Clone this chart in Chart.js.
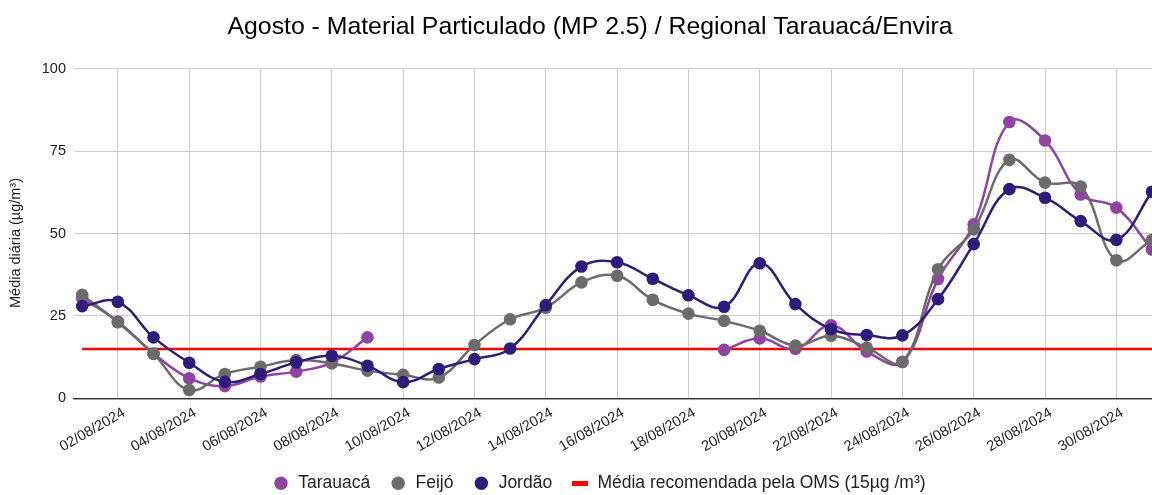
<!DOCTYPE html>
<html><head><meta charset="utf-8">
<script src="https://cdn.jsdelivr.net/npm/chart.js@4.4.1/dist/chart.umd.min.js"></script>
<style>html,body{margin:0;padding:0;background:#fff;overflow:hidden}</style>
</head><body>
<canvas id="c" width="1152" height="495"></canvas>
<script>
const days = ['01/08/2024','02/08/2024','03/08/2024','04/08/2024','05/08/2024','06/08/2024','07/08/2024','08/08/2024','09/08/2024','10/08/2024','11/08/2024','12/08/2024','13/08/2024','14/08/2024','15/08/2024','16/08/2024','17/08/2024','18/08/2024','19/08/2024','20/08/2024','21/08/2024','22/08/2024','23/08/2024','24/08/2024','25/08/2024','26/08/2024','27/08/2024','28/08/2024','29/08/2024','30/08/2024','31/08/2024'];
const tickDays = [2,4,6,8,10,12,14,16,18,20,22,24,26,28,30];
const yTicks = [0,25,50,75,100];
const tarauaca = [30.4,23.3,13.6,6.1,3.7,6.6,8.1,10.8,18.5,null,null,null,null,null,null,null,null,null,14.7,18.2,15.0,22.2,14.2,11.0,36.2,52.8,83.9,78.3,61.9,57.9,45.2];
const feijo = [31.4,23.1,13.5,2.5,7.4,9.6,11.6,10.6,8.4,7.1,6.3,16.2,24.0,27.5,35.2,37.2,29.9,25.7,23.5,20.5,16.0,19.0,15.4,11.1,39.2,51.3,72.4,65.5,64.3,41.9,48.1];
const jordao = [28.0,29.3,18.5,10.8,5.0,7.4,10.9,12.9,9.9,4.9,8.9,11.9,15.1,28.3,40.0,41.3,36.3,31.3,27.8,41.0,28.6,21.0,19.2,19.1,30.1,46.8,63.5,60.9,53.8,48.1,62.7];
const oms = days.map(() => 15);
const seriesNames = ['Tarauacá','Feijó','Jordão','Média recomendada pela OMS (15µg /m³)'];
const titleText = 'Agosto - Material Particulado (MP 2.5) / Regional Tarauacá/Envira';
const yTitle = 'Média diária (µg/m³)';

const FONT = '"Liberation Sans", Arial, sans-serif';
Chart.defaults.font.family = FONT;
Chart.defaults.color = '#222';

const toXY = arr => arr.map((v, i) => ({x: i + 1, y: v}));

const marker = document.createElement('canvas');
marker.width = 16; marker.height = 5;
const mctx = marker.getContext('2d');
mctx.fillStyle = '#ff0000'; mctx.fillRect(0, 0, 16, 5);

const colors = ['#8f44a2', '#6b6b6b', '#2f1b7a', '#ff0000'];

function series(i, data, order) {
  return {
    label: seriesNames[i], data: toXY(data), order: order,
    borderColor: colors[i], backgroundColor: colors[i],
    pointBackgroundColor: colors[i], pointBorderWidth: 0,
    pointRadius: 6.3, pointHoverRadius: 6.3,
    borderWidth: 2.5, tension: 0.4, spanGaps: false
  };
}

const shiftPlugin = {
  id: 'shift',
  afterLayout(chart) {
    const lg = chart.legend;
    lg.top += 7; lg.bottom += 7; lg.left += 23; lg.right += 23;
    const t = chart.titleBlock;
    t.left += 14; t.right += 14;
    const ca = chart.chartArea;
    ca.right = chart.width; ca.width = ca.right - ca.left;
    const x = chart.scales.x;
    x.right = chart.width; x.width = x.right - x.left;
    x.configure();
    x.bottom = chart.height;
  },
  afterDraw(chart) {
    const ctx = chart.ctx;
    ctx.save();
    ctx.translate(16, 243);
    ctx.rotate(-Math.PI / 2);
    ctx.font = '14.5px ' + FONT;
    ctx.fillStyle = '#222';
    ctx.textAlign = 'center';
    ctx.textBaseline = 'middle';
    ctx.fillText(yTitle, 0, 0);
    ctx.restore();
  }
};

new Chart(document.getElementById('c'), {
  type: 'line',
  data: {
    datasets: [
      series(0, tarauaca, 2),
      series(1, feijo, 1),
      series(2, jordao, 0),
      {
        label: seriesNames[3], data: toXY(oms), order: 3,
        borderColor: colors[3], backgroundColor: colors[3],
        borderWidth: 2.5, pointRadius: 0, pointHoverRadius: 0, tension: 0
      }
    ]
  },
  plugins: [shiftPlugin],
  options: {
    responsive: false, animation: false,
    layout: {padding: 0},
    scales: {
      x: {
        type: 'linear', min: 0.77, max: 31,
        afterBuildTicks: s => { s.ticks = tickDays.map(v => ({value: v})); },
        afterFit: s => { s.height = 49.7; s.paddingLeft = 0; s.paddingRight = 0; },
        ticks: {
          autoSkip: false, minRotation: 30, maxRotation: 30, padding: 6, labelOffset: 6,
          font: {size: 14.5}, color: '#222',
          callback: v => days[v - 1]
        },
        grid: {color: '#cccccc', lineWidth: 1, drawTicks: false},
        border: {display: true, color: '#333', width: 1.3}
      },
      y: {
        min: 0, max: 100,
        afterBuildTicks: s => { s.ticks = yTicks.map(v => ({value: v})); },
        afterFit: s => { s.width = 74; },
        ticks: {padding: 8, font: {size: 14.5}, color: '#222'},
        grid: {color: c => (c.tick && c.tick.value === 0) ? '#333' : '#cccccc', lineWidth: c => (c.tick && c.tick.value === 0) ? 1.3 : 1, drawTicks: false},
        border: {display: false},
        title: {display: false}
      }
    },
    plugins: {
      title: {
        display: true, text: titleText, color: '#000',
        font: {size: 24.8, weight: 'normal'}, padding: {top: 12, bottom: 27.2}
      },
      legend: {
        position: 'bottom',
        labels: {
          usePointStyle: true, boxWidth: 17, boxHeight: 9.5, padding: 19.5,
          font: {size: 17.5}, color: '#222',
          sort: (a, b) => a.datasetIndex - b.datasetIndex,
          generateLabels: chart => {
            const items = Chart.defaults.plugins.legend.labels.generateLabels(chart);
            items.forEach(it => {
              it.pointStyle = it.datasetIndex === 3 ? marker : 'circle';
              it.lineWidth = 0;
              it.strokeStyle = 'rgba(0,0,0,0)';
            });
            return items;
          }
        }
      },
      tooltip: {enabled: false}
    }
  }
});
</script>
</body></html>
